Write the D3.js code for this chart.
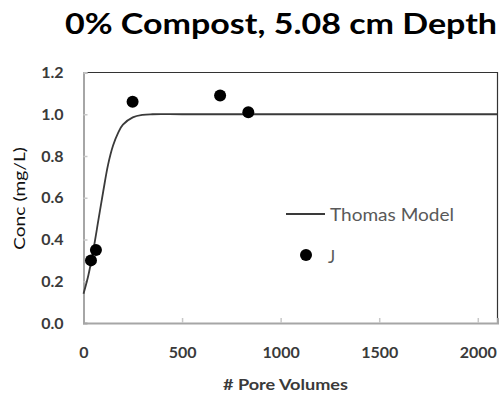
<!DOCTYPE html>
<html><head><meta charset="utf-8">
<script src="https://cdn.jsdelivr.net/npm/d3@7"></script>
<style>body{margin:0;background:#fff}svg{display:block}</style>
</head><body>
<svg id="c" width="503" height="395"></svg>
<script>
const title = "0% Compost, 5.08 cm Depth";
const xLabel = "# Pore Volumes";
const yLabel = "Conc (mg/L)";
const xTicks = [0, 500, 1000, 1500, 2000];
const yTicks = [0, 0.2, 0.4, 0.6, 0.8, 1.0, 1.2];
const modelName = "Thomas Model";
const pointsName = "J";
// Thomas model curve
const modelX = [0, 25, 50, 75, 100, 125, 150, 175, 200, 250, 300, 350, 500, 1000, 2100];
const modelY = [0.14, 0.23, 0.35, 0.49, 0.63, 0.76, 0.85, 0.91, 0.95, 0.985, 0.997, 1.0, 1.0, 1.0, 1.0];
// Observed data J
const obsX = [38, 63, 249, 693, 836];
const obsY = [0.30, 0.35, 1.06, 1.09, 1.01];

const svg = d3.select("#c");
const L = 83.5, R = 497.5, T = 72.5, B = 323;
const x = d3.scaleLinear().domain([0, 2100]).range([L, R]);
const y = d3.scaleLinear().domain([0, 1.2]).range([B, T]);
const font = "Lato, 'Open Sans', sans-serif";

// frame: top & right dark
svg.append("path").attr("d", `M${L},${T}H${R}V${B}`).attr("fill", "none").attr("stroke", "#333").attr("stroke-width", 1.2);

// axes
const xa = svg.append("g").attr("transform", `translate(0,${B})`)
  .call(d3.axisBottom(x).tickValues(xTicks).tickSize(-5).tickFormat(d3.format("d")));
const ya = svg.append("g").attr("transform", `translate(${L},0)`)
  .call(d3.axisLeft(y).tickValues(yTicks).tickSize(-4).tickFormat(d3.format(".1f")));
[xa, ya].forEach(g => {
  g.select(".domain").attr("stroke", "#a6a6a6").attr("stroke-width", 2);
  g.selectAll(".tick line").attr("stroke", "#c8c8c8").attr("stroke-width", 1.5);
  g.selectAll(".tick text").attr("fill", "#3a3a3a").style("font-family", font)
    .style("font-size", "16px").style("font-weight", "700");
});
xa.selectAll(".tick line").filter(d => d === 0).remove();
ya.selectAll(".tick line").filter(d => d === 0).remove();
xa.selectAll(".tick text").attr("y", 29).attr("dy", "0.35em");
ya.selectAll(".tick text").attr("x", -20);

// model line
const line = d3.line().x(d => x(d[0])).y(d => y(d[1])).curve(d3.curveCatmullRom.alpha(0.5));
svg.append("path").datum(modelX.map((v, i) => [v, modelY[i]]))
  .attr("d", line).attr("fill", "none").attr("stroke", "#3a3a3a").attr("stroke-width", 1.8);

// points
svg.selectAll("circle.obs").data(obsX.map((v, i) => [v, obsY[i]])).enter()
  .append("circle").attr("class", "obs").attr("cx", d => x(d[0])).attr("cy", d => y(d[1]))
  .attr("r", 6).attr("fill", "#000");

// legend
svg.append("line").attr("x1", 286).attr("x2", 325).attr("y1", 214).attr("y2", 214)
  .attr("stroke", "#3a3a3a").attr("stroke-width", 1.8);
svg.append("text").attr("x", 330).attr("y", 215).attr("dy", "0.35em").text(modelName)
  .style("font-family", font).style("font-size", "17px").attr("fill", "#595959")
  .attr("textLength", 124).attr("lengthAdjust", "spacingAndGlyphs");
svg.append("circle").attr("cx", 306).attr("cy", 255).attr("r", 6).attr("fill", "#000");
svg.append("text").attr("x", 328).attr("y", 257).attr("dy", "0.35em").text(pointsName)
  .style("font-family", font).style("font-size", "17px").attr("fill", "#595959");

// title
svg.append("text").attr("x", 281).attr("y", 34).attr("text-anchor", "middle").text(title)
  .style("font-family", font).style("font-size", "29px").style("font-weight", "700")
  .attr("fill", "#000").attr("textLength", 432).attr("lengthAdjust", "spacingAndGlyphs");

// axis titles
svg.append("text").attr("x", 285.5).attr("y", 384).attr("dy", "0.35em").attr("text-anchor", "middle")
  .text(xLabel).style("font-family", font).style("font-size", "16px").style("font-weight", "700").attr("fill", "#3a3a3a")
  .attr("textLength", 125).attr("lengthAdjust", "spacingAndGlyphs");
svg.append("text").attr("transform", "translate(19,198.5) rotate(-90)").attr("dy", "0.35em")
  .attr("text-anchor", "middle").text(yLabel).style("font-family", font).style("font-size", "16px").attr("fill", "#111")
  .attr("textLength", 103).attr("lengthAdjust", "spacingAndGlyphs");
</script>
</body></html>
